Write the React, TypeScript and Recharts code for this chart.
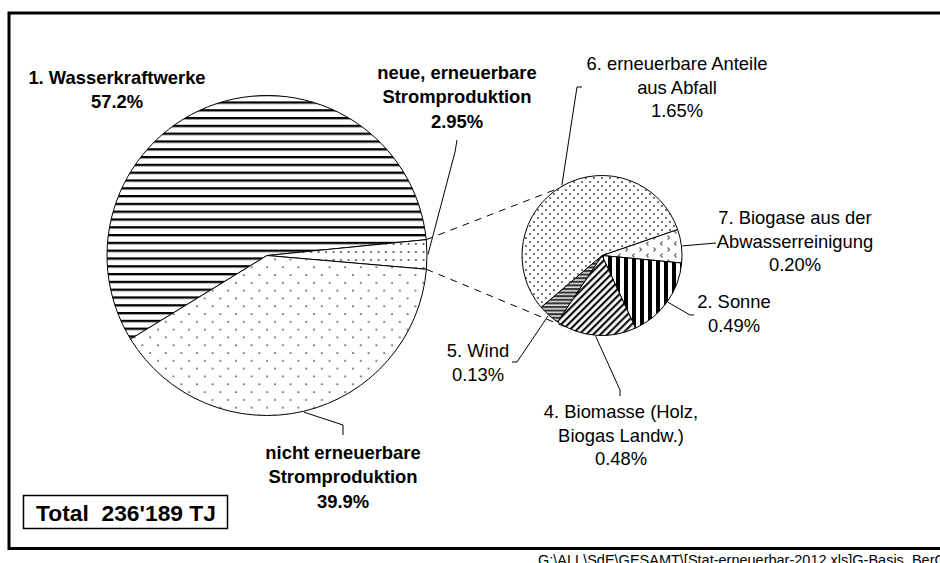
import { PieChart, Pie, Cell, Customized } from 'recharts'

// Anteile an der Stromproduktion (%)
const bigNames = ['1. Wasserkraftwerke', 'neue, erneuerbare Stromproduktion', 'nicht erneuerbare Stromproduktion']
const bigShares = [57.2, 2.95, 39.9]
const bigLabelLines = [['1. Wasserkraftwerke'], ['neue, erneuerbare', 'Stromproduktion'], ['nicht erneuerbare', 'Stromproduktion']]

// Aufteilung der neuen, erneuerbaren Stromproduktion (%)
const smallNames = ['7. Biogase aus der Abwasserreinigung', '2. Sonne', '4. Biomasse (Holz, Biogas Landw.)', '5. Wind', '6. erneuerbare Anteile aus Abfall']
const smallShares = [0.2, 0.49, 0.48, 0.13, 1.65]
const smallLabelLines = [['7. Biogase aus der', 'Abwasserreinigung'], ['2. Sonne'], ['4. Biomasse (Holz,', 'Biogas Landw.)'], ['5. Wind'], ['6. erneuerbare Anteile', 'aus Abfall']]

const totalLabel = "Total  236'189 TJ"
const sourcePath = 'G:\\ALL\\SdE\\GESAMT\\[Stat-erneuerbar-2012.xls]G-Basis_BerGr'

const bigData = bigShares.map((v, i) => ({ name: bigNames[i], value: v }))
const smallData = smallShares.map((v, i) => ({ name: smallNames[i], value: v }))

// layout
const FONT = "'Liberation Sans', Arial, Helvetica, sans-serif"
const BIG = { cx: 267, cy: 255.5, r: 160, start: 211.5 }
const SMALL = { cx: 602, cy: 255.5, r: 80, start: 19 }
const bigFills = ['url(#pWasser)', 'url(#pNeue)', 'url(#pNicht)']
const smallFills = ['url(#pAbwasser)', 'url(#pSonne)', 'url(#pBiomasse)', 'url(#pWind)', 'url(#pAbfall)']
const bigLabelPos = [
  { x: 117, y: 84, leader: [] as number[][] },
  { x: 457, y: 79, leader: [[455, 152], [457, 140]] },
  { x: 343, y: 459, leader: [[343, 425], [343, 435]] },
]
const smallLabelPos = [
  { x: 795, y: 224, leader: [[716, 243]] },
  { x: 734, y: 308, leader: [[690, 315], [694, 315]] },
  { x: 621, y: 418, leader: [[620, 390], [620, 396]] },
  { x: 478, y: 357, leader: [[517, 362], [512, 362]] },
  { x: 677, y: 70, leader: [[577, 87], [582, 87]] },
]

const RAD = Math.PI / 180
const polar = (cx: number, cy: number, r: number, a: number) => [cx + r * Math.cos(a * RAD), cy - r * Math.sin(a * RAD)]
const fmtPct = (v: number) => (v >= 10 ? v.toFixed(1) : v.toFixed(2)) + '%'

function makeLabel(lines: string[][], shares: number[], pos: typeof bigLabelPos, bold: boolean, lineH: number) {
  return (props: any) => {
    const { cx, cy, midAngle, outerRadius, index } = props
    const p = pos[index]
    const rows = [...lines[index], fmtPct(shares[index])]
    const start = polar(cx, cy, outerRadius + 1, midAngle)
    const pts = [start, ...p.leader].map(q => q.join(',')).join(' ')
    return (
      <g key={`lbl-${index}`}>
        {p.leader.length > 0 && <polyline points={pts} fill="none" stroke="#000" strokeWidth={1} />}
        <text x={p.x} y={p.y} textAnchor="middle" fontFamily={FONT} fontSize={18.4} fontWeight={bold ? 'bold' : 'normal'} fill="#000">
          {rows.map((r, i) => (
            <tspan key={i} x={p.x} dy={i === 0 ? 0 : lineH}>{r}</tspan>
          ))}
        </text>
      </g>
    )
  }
}

const renderBigLabel = makeLabel(bigLabelLines, bigShares, bigLabelPos, true, 24.3)
const renderSmallLabel = makeLabel(smallLabelLines, smallShares, smallLabelPos, false, 23.7)

function Decor() {
  const sum = bigShares.reduce((a, b) => a + b, 0)
  const neueStart = BIG.start - (360 * bigShares[0]) / sum
  const neueEnd = neueStart - (360 * bigShares[1]) / sum
  const a1 = polar(BIG.cx, BIG.cy, BIG.r, neueStart)
  const a2 = polar(BIG.cx, BIG.cy, BIG.r, neueEnd)
  const b1 = polar(SMALL.cx, SMALL.cy, SMALL.r, 123)
  const b2 = polar(SMALL.cx, SMALL.cy, SMALL.r, -113)
  return (
    <g>
      <rect x={9} y={13} width={980} height={535.5} fill="none" stroke="#000" strokeWidth={3} />
      <line x1={a1[0]} y1={a1[1]} x2={b1[0]} y2={b1[1]} stroke="#000" strokeWidth={1} strokeDasharray="7 6" />
      <line x1={a2[0]} y1={a2[1]} x2={b2[0]} y2={b2[1]} stroke="#000" strokeWidth={1} strokeDasharray="7 6" />
      <rect x={23.5} y={495.5} width={204} height={33} fill="#fff" stroke="#000" strokeWidth={1.5} />
      <text x={126} y={521} textAnchor="middle" fontFamily={FONT} fontSize={22.8} fontWeight="bold" style={{ whiteSpace: 'pre' }}>
        {totalLabel}
      </text>
      <text x={538} y={564.5} fontFamily={FONT} fontSize={14.5} fill="#000">{sourcePath}</text>
    </g>
  )
}

export default function App() {
  return (
    <div style={{ position: 'absolute', left: 0, top: 0, width: 940, height: 563, background: '#fff' }}>
      <PieChart width={940} height={563} margin={{ top: 0, right: 0, bottom: 0, left: 0 }}>
        <defs>
          <pattern id="pWasser" patternUnits="userSpaceOnUse" width={8} height={7.8}>
            <rect width={8} height={7.8} fill="#fff" />
            <rect y={0} width={8} height={2} fill="#000" />
            <rect y={2} width={8} height={0.8} fill="#888" />
          </pattern>
          <pattern id="pNeue" patternUnits="userSpaceOnUse" width={7.5} height={8}>
            <rect width={7.5} height={8} fill="#fff" />
            <circle cx={3.5} cy={4} r={1} fill="#444" />
          </pattern>
          <pattern id="pNicht" patternUnits="userSpaceOnUse" width={15.6} height={15.6}>
            <rect width={15.6} height={15.6} fill="#fff" />
            <circle cx={2} cy={2} r={0.9} fill="#333" />
            <circle cx={9.8} cy={9.8} r={0.9} fill="#333" />
          </pattern>
          <pattern id="pAbfall" patternUnits="userSpaceOnUse" width={8} height={8}>
            <rect width={8} height={8} fill="#fff" />
            <circle cx={2} cy={2} r={1.1} fill="#555" />
            <circle cx={6} cy={6} r={1.1} fill="#555" />
          </pattern>
          <pattern id="pAbwasser" patternUnits="userSpaceOnUse" width={14} height={12}>
            <rect width={14} height={12} fill="#fff" />
            <path d="M4.5 1.5 L2.5 3.5 L4.5 5.5" fill="none" stroke="#666" strokeWidth={1.2} />
            <path d="M9.5 7.5 L11.5 9.5 L9.5 11.5" fill="none" stroke="#666" strokeWidth={1.2} />
          </pattern>
          <pattern id="pSonne" patternUnits="userSpaceOnUse" width={8} height={8}>
            <rect width={8} height={8} fill="#fff" />
            <rect x={0} width={4} height={8} fill="#000" />
          </pattern>
          <pattern id="pBiomasse" patternUnits="userSpaceOnUse" width={5} height={5} patternTransform="rotate(45)">
            <rect width={5} height={5} fill="#fff" />
            <rect x={0} width={2.2} height={5} fill="#111" />
          </pattern>
          <pattern id="pWind" patternUnits="userSpaceOnUse" width={4} height={3.6}>
            <rect width={4} height={3.6} fill="#ddd" />
            <rect y={0} width={4} height={2} fill="#333" />
          </pattern>
        </defs>
        <Customized component={<Decor />} />
        <Pie
          data={bigData}
          dataKey="value"
          nameKey="name"
          cx={BIG.cx}
          cy={BIG.cy}
          outerRadius={BIG.r}
          startAngle={BIG.start}
          endAngle={BIG.start - 360}
          stroke="#000"
          strokeWidth={1}
          label={renderBigLabel}
          labelLine={false}
          isAnimationActive={false}
        >
          {bigData.map((d, i) => <Cell key={d.name} fill={bigFills[i]} stroke="#000" />)}
        </Pie>
        <Pie
          data={smallData}
          dataKey="value"
          nameKey="name"
          cx={SMALL.cx}
          cy={SMALL.cy}
          outerRadius={SMALL.r}
          startAngle={SMALL.start}
          endAngle={SMALL.start - 360}
          stroke="#000"
          strokeWidth={1}
          label={renderSmallLabel}
          labelLine={false}
          isAnimationActive={false}
        >
          {smallData.map((d, i) => <Cell key={d.name} fill={smallFills[i]} stroke="#000" />)}
        </Pie>
      </PieChart>
    </div>
  )
}
